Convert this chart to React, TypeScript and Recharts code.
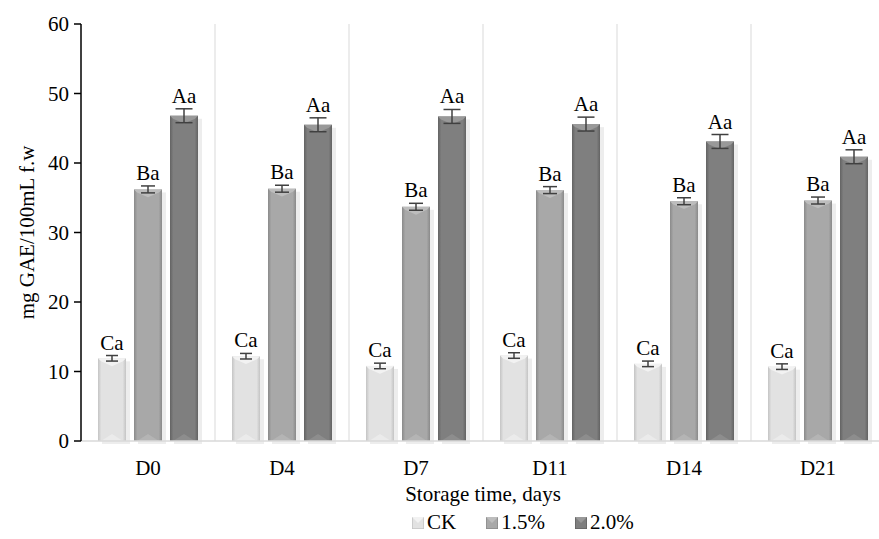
import React from 'react'
import {Bar, BarChart, CartesianGrid, ErrorBar, LabelList, Legend, XAxis, YAxis} from 'recharts'

const days = ['D0', 'D4', 'D7', 'D11', 'D14', 'D21']
const ckValues = [11.9, 12.2, 10.8, 12.3, 11.1, 10.7]
const lowValues = [36.2, 36.3, 33.7, 36.1, 34.5, 34.6]
const highValues = [46.8, 45.5, 46.7, 45.6, 43.1, 40.9]
const ckErrors = [0.4, 0.4, 0.4, 0.4, 0.4, 0.4]
const lowErrors = [0.5, 0.5, 0.5, 0.5, 0.5, 0.5]
const highErrors = [1.0, 1.0, 1.0, 1.0, 1.0, 1.0]
const ckLetters = ['Ca', 'Ca', 'Ca', 'Ca', 'Ca', 'Ca']
const lowLetters = ['Ba', 'Ba', 'Ba', 'Ba', 'Ba', 'Ba']
const highLetters = ['Aa', 'Aa', 'Aa', 'Aa', 'Aa', 'Aa']
const yTicks = [0, 10, 20, 30, 40, 50, 60]

const FONT = '"Liberation Serif", "DejaVu Serif", serif'
const FS = 21
const W = 890
const H = 539
const MARGIN = {top: 24, right: 5, bottom: 0, left: 0}
const X_AXIS_H = 62
const LEGEND_H = 36
const PLOT_H = H - MARGIN.top - X_AXIS_H - LEGEND_H
const PX_PER_UNIT = PLOT_H / 60

const data = days.map((day, i) => ({
  day,
  ck: ckValues[i],
  low: lowValues[i],
  high: highValues[i],
  ckErr: ckErrors[i],
  lowErr: lowErrors[i],
  highErr: highErrors[i],
  ckTag: ckLetters[i],
  lowTag: lowLetters[i],
  highTag: highLetters[i],
}))

const series = [
  {key: 'ck', name: 'CK', err: 'ckErr', tag: 'ckTag', errors: ckErrors, cap: 6, face: '#e2e2e2', edge: '#c4c4c4', light: '#f2f2f2'},
  {key: 'low', name: '1.5%', err: 'lowErr', tag: 'lowTag', errors: lowErrors, cap: 7, face: '#a8a8a8', edge: '#8a8a8a', light: '#bdbdbd'},
  {key: 'high', name: '2.0%', err: 'highErr', tag: 'highTag', errors: highErrors, cap: 8.5, face: '#7f7f7f', edge: '#636363', light: '#999999'},
]

// bevelled bar: side-shaded body, light chevron on top, soft arch at the foot
function bevelShape(s: (typeof series)[number]) {
  return (props: any) => {
    const {x, y, width: w, height: h} = props
    if (!h || h <= 0) return null
    const v = Math.min(w * 0.28, h / 2)
    return (
      <g>
        <rect x={x + 4} y={y + 3} width={w} height={h} fill="#000" opacity={0.07} />
        <rect x={x} y={y} width={w} height={h} fill={`url(#grad-${s.key})`} />
        <polygon points={`${x},${y} ${x + w},${y} ${x + w - 3},${y + 3} ${x + w / 2},${y + v} ${x + 3},${y + 3}`} fill={s.light} />
        <polygon points={`${x + 3},${y + h} ${x + w / 2},${y + h - v * 0.9} ${x + w - 3},${y + h}`} fill={s.light} opacity={0.55} />
      </g>
    )
  }
}

function tagLabel(s: (typeof series)[number]) {
  return (props: any) => {
    const {x, y, width, value, index} = props
    const lift = s.errors[index] * PX_PER_UNIT + 6
    return (
      <text x={x + width / 2} y={y - lift} textAnchor="middle" fontFamily={FONT} fontSize={FS} fill="#000">
        {value}
      </text>
    )
  }
}

function LegendRow() {
  return (
    <div style={{display: 'flex', gap: 30, paddingLeft: 412, paddingTop: 7, fontFamily: FONT, fontSize: FS, color: '#000', alignItems: 'center'}}>
      {series.map((s) => (
        <span key={s.key} style={{display: 'flex', alignItems: 'center', gap: 3}}>
          <svg width={12} height={12}>
            <rect x={0} y={0} width={12} height={12} fill={s.face} stroke={s.edge} strokeWidth={1.5} />
            <polygon points="0,0 12,0 6,6" fill={s.light} />
          </svg>
          {s.name}
        </span>
      ))}
    </div>
  )
}

export default function App() {
  return (
    <div style={{position: 'absolute', left: 0, top: 0, width: 879, height: H, overflow: 'hidden', background: '#fff'}}>
      <BarChart width={W} height={H} data={data} margin={MARGIN} barSize={28} barGap={8}>
        <defs>
          {series.map((s) => (
            <linearGradient key={s.key} id={`grad-${s.key}`} x1="0" y1="0" x2="1" y2="0">
              <stop offset="0%" stopColor={s.edge} />
              <stop offset="12%" stopColor={s.face} />
              <stop offset="88%" stopColor={s.face} />
              <stop offset="100%" stopColor={s.edge} />
            </linearGradient>
          ))}
        </defs>
        <CartesianGrid
          horizontal={false}
          stroke="#d9d9d9"
          verticalCoordinatesGenerator={({offset}: any) => [1, 2, 3, 4, 5].map((i) => offset.left + (i * offset.width) / 6)}
        />
        <XAxis
          dataKey="day"
          height={X_AXIS_H}
          axisLine={{stroke: '#d9d9d9', strokeWidth: 1.5}}
          tickLine={false}
          tickMargin={13}
          tick={{fontFamily: FONT, fontSize: FS, fill: '#000'}}
          label={{value: 'Storage time, days', position: 'insideBottom', offset: 2, style: {fontFamily: FONT, fontSize: FS, fill: '#000'}}}
        />
        <YAxis
          width={81}
          domain={[0, 60]}
          ticks={yTicks}
          axisLine={{stroke: '#000', strokeWidth: 1.5}}
          tickLine={{stroke: '#000', strokeWidth: 1.5}}
          tickSize={7}
          tickMargin={5}
          tick={{fontFamily: FONT, fontSize: FS, fill: '#000'}}
          label={{value: 'mg GAE/100mL f.w', angle: -90, position: 'insideLeft', offset: 27, style: {fontFamily: FONT, fontSize: FS, fill: '#000', textAnchor: 'middle'}}}
        />
        <Legend verticalAlign="bottom" height={LEGEND_H} content={() => <LegendRow />} wrapperStyle={{left: 0, width: W}} />
        {series.map((s) => (
          <Bar key={s.key} dataKey={s.key} name={s.name} fill={s.face} shape={bevelShape(s)} isAnimationActive={false}>
            <ErrorBar dataKey={s.err} width={s.cap} stroke="#404040" strokeWidth={1.5} />
            <LabelList dataKey={s.tag} content={tagLabel(s)} />
          </Bar>
        ))}
      </BarChart>
    </div>
  )
}
